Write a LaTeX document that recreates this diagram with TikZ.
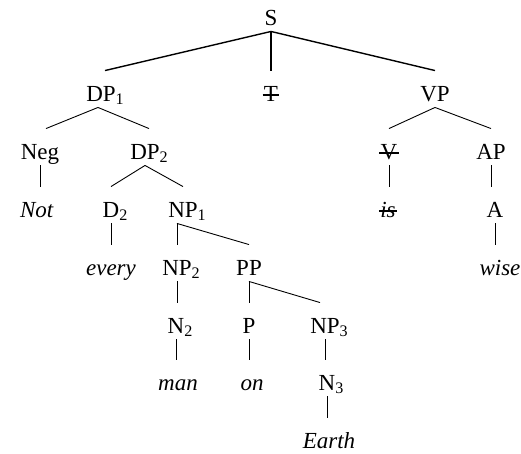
\documentclass[tikz,border=0pt]{standalone}
\usepackage{fontspec}
\setmainfont{Liberation Serif}
\newcommand{\sbs}[1]{\rlap{\textsubscript{#1}}}

\begin{document}
\begin{tikzpicture}[x=1pt,y=-1pt,line width=0.9pt,
  every node/.style={inner sep=0pt,anchor=base,text height=30pt,text depth=6pt,
    font=\fontsize{23}{28}\selectfont},
  top/.style={line width=1.4pt},
  struck/.style={append after command={([xshift=-1pt,yshift=6pt]\tikzlastnode.base west)
    edge[line width=1.1pt] ([xshift=1pt,yshift=6pt]\tikzlastnode.base east)}}]
\useasboundingbox (0,0) rectangle (521,453);
\node (S) at (271,25) {S};
\node (DPa) at (101,101) {DP\sbs{1}};
\node[struck] (T) at (271,101) {T};
\node (VP) at (435,101) {VP};
\node (Neg) at (40,159) {Neg};
\node (DPb) at (145,159) {DP\sbs{2}};
\node[struck] (V) at (389,159) {V};
\node (AP) at (491,159) {AP};
\node (Not) at (37,217) {\textit{Not}};
\node (Db) at (111,217) {D\sbs{2}};
\node (NPa) at (183,217) {NP\sbs{1}};
\node[struck] (is) at (388,217) {\textit{is}};
\node (A) at (495,217) {A};
\node (every) at (111,275) {\textit{every}};
\node (NPb) at (177,275) {NP\sbs{2}};
\node (PP) at (249,275) {PP};
\node (wise) at (500,275) {\textit{wise}};
\node (Nb) at (176,333) {N\sbs{2}};
\node (P) at (249,333) {P};
\node (NPc) at (325,333) {NP\sbs{3}};
\node (man) at (178,390) {\textit{man}};
\node (on) at (252,390) {\textit{on}};
\node (Nc) at (327,390) {N\sbs{3}};
\node (Earth) at (329,448) {\textit{Earth}};

\draw[top] (S.south) -- ([xshift=4pt]DPa.north);
\draw[top] (S.south) -- (T.north);
\draw[top] (S.south) -- (VP.north);
\draw ([xshift=-3pt]DPa.south) -- ([xshift=6pt]Neg.north);
\draw ([xshift=-3pt]DPa.south) -- ([xshift=4pt]DPb.north);
\draw (VP.south) -- (V.north);
\draw (VP.south) -- (AP.north);
\draw (Neg.south) -- (Neg.south |- Not.north);
\draw (DPb.south) -- (Db.north);
\draw (DPb.south) -- (NPa.north);
\draw (V.south) -- (V.south |- is.north);
\draw (AP.south) -- (AP.south |- A.north);
\draw (Db.south) -- (Db.south |- every.north);
\draw ([xshift=-6pt]NPa.south) -- (NPb.north);
\draw ([xshift=-6pt]NPa.south) -- (PP.north);
\draw (A.south) -- (A.south |- wise.north);
\draw (NPb.south) -- (NPb.south |- Nb.north);
\draw (PP.south) -- (P.north);
\draw (PP.south) -- ([xshift=-5pt]NPc.north);
\draw (Nb.south) -- (Nb.south |- man.north);
\draw (P.south) -- (P.south |- on.north);
\draw (NPc.south) -- (NPc.south |- Nc.north);
\draw (Nc.south) -- (Nc.south |- Earth.north);
\end{tikzpicture}
\end{document}
